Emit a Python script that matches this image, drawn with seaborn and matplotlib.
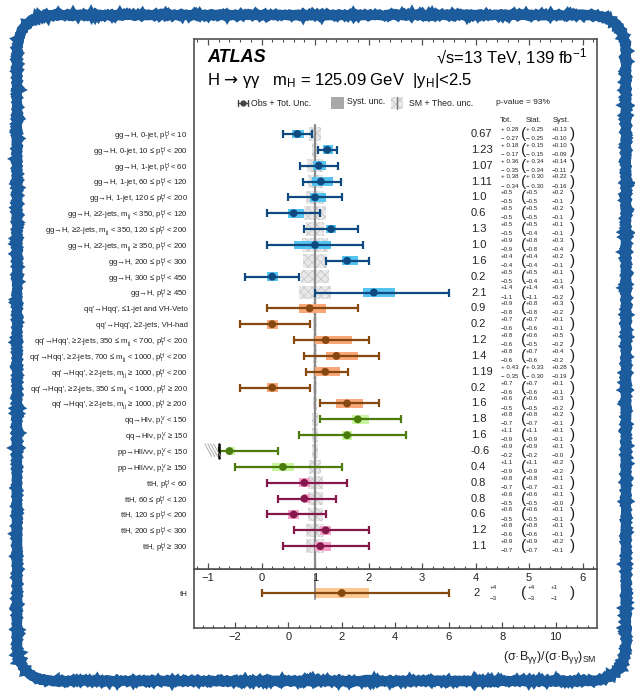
import numpy as np
import pandas as pd
import seaborn as sns
import matplotlib.pyplot as plt
import matplotlib.transforms as mtransforms
from matplotlib.patches import Rectangle, FancyBboxPatch
from matplotlib.lines import Line2D
from matplotlib.ticker import MultipleLocator

sns.set_theme(style="ticks")
plt.rcParams['font.family'] = ['Liberation Sans', 'DejaVu Sans']
plt.rcParams['mathtext.fontset'] = 'custom'
plt.rcParams['mathtext.rm'] = 'Liberation Sans'
plt.rcParams['mathtext.it'] = 'Liberation Sans:italic'
plt.rcParams['mathtext.bf'] = 'Liberation Sans:bold'
plt.rcParams['mathtext.sf'] = 'DejaVu Sans'
plt.rcParams['hatch.linewidth'] = 0.6

PT = r"$\mathregular{p_T^H}$"
MJJ = r"$\mathregular{m_{jj}}$"
PV = r"$\mathregular{p_t^V}$"

labels = [
    f"gg→H, 0-jet, {PT} < 10",
    f"gg→H, 0-jet, 10 ≤ {PT} < 200",
    f"gg→H, 1-jet, {PT} < 60",
    f"gg→H, 1-jet, 60 ≤ {PT} < 120",
    f"gg→H, 1-jet, 120 ≤ {PT} < 200",
    f"gg→H, ≥2-jets, {MJJ} < 350, {PT} < 120",
    f"gg→H, ≥2-jets, {MJJ} < 350, 120 ≤ {PT} < 200",
    f"gg→H, ≥2-jets, {MJJ} ≥ 350, {PT} < 200",
    f"gg→H, 200 ≤ {PT} < 300",
    f"gg→H, 300 ≤ {PT} < 450",
    f"gg→H, {PT} ≥ 450",
    "qq'→Hqq', ≤1-jet and VH-Veto",
    "qq'→Hqq', ≥2-jets, VH-had",
    f"qq'→Hqq', ≥2-jets, 350 ≤ {MJJ} < 700, {PT} < 200",
    f"qq'→Hqq', ≥2-jets, 700 ≤ {MJJ} < 1000, {PT} < 200",
    f"qq'→Hqq', ≥2-jets, {MJJ} ≥ 1000, {PT} < 200",
    f"qq'→Hqq', ≥2-jets, 350 ≤ {MJJ} < 1000, {PT} ≥ 200",
    f"qq'→Hqq', ≥2-jets, {MJJ} ≥ 1000, {PT} ≥ 200",
    f"qq→Hlν, {PV} < 150",
    f"qq→Hlν, {PV} ≥ 150",
    f"pp→Hll/νν, {PV} < 150",
    f"pp→Hll/νν, {PV} ≥ 150",
    f"ttH, {PT} < 60",
    f"ttH, 60 ≤ {PT} < 120",
    f"ttH, 120 ≤ {PT} < 200",
    f"ttH, 200 ≤ {PT} < 300",
    f"ttH, {PT} ≥ 300",
]
groups = ['gg'] * 11 + ['qq'] * 7 + ['vh'] * 4 + ['tth'] * 5
mu = [0.67, 1.23, 1.07, 1.11, 1.0, 0.6, 1.3, 1.0, 1.6, 0.2, 2.1,
      0.9, 0.2, 1.2, 1.4, 1.19, 0.2, 1.6,
      1.8, 1.6, -0.6, 0.4,
      0.8, 0.8, 0.6, 1.2, 1.1]
tot_up = [0.28, 0.18, 0.36, 0.38, 0.5, 0.5, 0.5, 0.9, 0.4, 0.5, 1.4,
          0.9, 0.7, 0.8, 0.8, 0.43, 0.7, 0.6,
          0.8, 1.1, 0.9, 1.1,
          0.8, 0.6, 0.6, 0.8, 0.9]
tot_dn = [0.27, 0.17, 0.35, 0.34, 0.5, 0.5, 0.5, 0.9, 0.4, 0.5, 1.1,
          0.8, 0.6, 0.6, 0.6, 0.35, 0.6, 0.5,
          0.7, 0.9, 0.2, 0.9,
          0.7, 0.5, 0.5, 0.6, 0.7]
stat_up = [0.25, 0.15, 0.34, 0.30, 0.5, 0.5, 0.5, 0.8, 0.4, 0.5, 1.4,
           0.8, 0.7, 0.6, 0.7, 0.33, 0.7, 0.6,
           0.8, 1.1, 0.9, 1.1,
           0.8, 0.6, 0.6, 0.8, 0.9]
stat_dn = [0.25, 0.15, 0.34, 0.30, 0.5, 0.5, 0.4, 0.8, 0.4, 0.4, 1.1,
           0.8, 0.6, 0.5, 0.6, 0.30, 0.6, 0.5,
           0.7, 0.9, 0.2, 0.9,
           0.7, 0.5, 0.5, 0.6, 0.7]
syst_up = [0.13, 0.10, 0.14, 0.22, 0.2, 0.2, 0.1, 0.3, 0.2, 0.1, 0.4,
           0.3, 0.1, 0.5, 0.4, 0.28, 0.1, 0.3,
           0.2, 0.1, 0.1, 0.2,
           0.1, 0.1, 0.1, 0.1, 0.2]
syst_dn = [0.10, 0.09, 0.11, 0.16, 0.1, 0.1, 0.1, 0.4, 0.1, 0.1, 0.2,
           0.2, 0.1, 0.2, 0.2, 0.19, 0.1, 0.2,
           0.1, 0.1, 0.0, 0.2,
           0.1, 0.0, 0.1, 0.1, 0.1]
decimals = [2, 2, 2, 2, 1, 1, 1, 1, 1, 1, 1,
            1, 1, 1, 1, 2, 1, 1,
            1, 1, 1, 1,
            1, 1, 1, 1, 1]
sm_unc = [0.12, 0.065, 0.15, 0.14, 0.17, 0.21, 0.17, 0.24, 0.22, 0.26, 0.29,
          0.04, 0.03, 0.04, 0.04, 0.04, 0.04, 0.04,
          0.05, 0.05, 0.05, 0.12,
          0.14, 0.14, 0.14, 0.16, 0.17]

# tH row (lower panel)
th_mu, th_up, th_dn = 2, 4, 3
th_stat_up, th_stat_dn = 4, 3
th_syst_up, th_syst_dn = 1, 1

line_col = {'gg': '#0e4a80', 'qq': '#87480e', 'vh': '#4a7b0c', 'tth': '#85174b'}
syst_col = {'gg': '#55c3f0', 'qq': '#f9a778', 'vh': '#c8f5a0', 'tth': '#f5a3cc'}
th_line, th_syst = '#87480e', '#fbc892'

df = pd.DataFrame({'label': labels, 'group': groups, 'mu': mu,
                   'tot_up': tot_up, 'tot_dn': tot_dn,
                   'syst_up': syst_up, 'syst_dn': syst_dn, 'sm': sm_unc})
df['row'] = np.arange(len(df))

W, H = 635, 695
fig = plt.figure(figsize=(W / 100, H / 100), dpi=100)
fig.patch.set_facecolor('white')


def fx(x):
    return x / W


def fy(y):
    return 1 - y / H


top_px, mid_px, bot_px = 39, 569, 628
left_px, right_px = 194, 597
ax = fig.add_axes([fx(left_px), fy(mid_px), fx(right_px - left_px), (mid_px - top_px) / H])
ax2 = fig.add_axes([fx(left_px), fy(bot_px), fx(right_px - left_px), (bot_px - mid_px) / H])
ax2.set_facecolor('none')
ax.set_zorder(3)
ax2.set_zorder(2)

xmin, xmax = -1.262, 6.271
ax.set_xlim(xmin, xmax)
ax.set_ylim(27.44, -5.99)
ax2.set_xlim(2 * xmin - 1, 2 * xmax - 1)
ax2.set_ylim(0, 1)
th_y = (bot_px - 593) / (bot_px - mid_px)

# SM boxes
ax.barh(df['row'], 2 * df['sm'], left=1 - df['sm'], height=0.85,
        color='#e9e9e9', edgecolor='#c9c9c9', hatch='xxxx', linewidth=0, zorder=1)
ax.plot([1, 1], [-0.55, 27.44], color='#8a8a8a', lw=1.6, zorder=2)

# systematic boxes
ax.barh(df['row'], df['syst_up'] + df['syst_dn'], left=df['mu'] - df['syst_dn'], height=0.55,
        color=[syst_col[g] for g in df['group']], linewidth=0, zorder=3)

# total uncertainty bars
for g, sub in df.groupby('group'):
    ax.errorbar(sub['mu'], sub['row'], xerr=[sub['tot_dn'], sub['tot_up']], fmt='none',
                ecolor=line_col[g], elinewidth=1.6, capsize=2.6, capthick=1.6, zorder=4)
sns.scatterplot(data=df, x='mu', y='row', hue='group', palette=line_col, s=32,
                edgecolor='none', legend=False, zorder=5, ax=ax)

# physical boundary for pp->Hll/vv, pT^V < 150
r = 20
lb = mu[r] - tot_dn[r]
ax.plot([lb, lb], [r - 0.42, r + 0.42], color='black', lw=1.8, zorder=6)
for k in range(4):
    x0 = lb - 0.26 + k * 0.055
    ax.plot([x0, x0 + 0.13], [r - 0.45, r + 0.35], color='#a0a0a0', lw=0.6, zorder=6)

# axes styling
for a in (ax, ax2):
    for s in a.spines.values():
        s.set_color('#505050')
        s.set_linewidth(1.2)
    a.set_xlabel('')
    a.set_ylabel('')
ax.xaxis.set_major_locator(MultipleLocator(1))
ax.xaxis.set_minor_locator(MultipleLocator(0.2))
ax.tick_params(axis='x', which='both', direction='in', top=True, bottom=True,
               colors='#505050', labelcolor='#222222', labelsize=8, pad=3)
ax.tick_params(axis='x', which='major', length=4.5, width=0.9)
ax.tick_params(axis='x', which='minor', length=2.3, width=0.8)
ax.set_xticks(range(-1, 7))
ax.set_xticklabels(['−1', '0', '1', '2', '3', '4', '5', '6'])
ax.set_yticks(df['row'])
ax.set_yticklabels(df['label'])
ax.tick_params(axis='y', length=0, labelsize=5.6, pad=4.5, labelcolor='#222222')

ax2.xaxis.set_major_locator(MultipleLocator(2))
ax2.xaxis.set_minor_locator(MultipleLocator(0.4))
ax2.tick_params(axis='x', which='both', direction='in', top=False, bottom=True,
                colors='#505050', labelcolor='#222222', labelsize=8, pad=3)
ax2.tick_params(axis='x', which='major', length=4.5, width=0.9)
ax2.tick_params(axis='x', which='minor', length=2.3, width=0.8)
ax2.set_xticks(range(-2, 11, 2))
ax2.set_xticklabels(['−2', '0', '2', '4', '6', '8', '10'])
ax2.set_yticks([th_y])
ax2.set_yticklabels(['tH'])
ax2.tick_params(axis='y', length=0, labelsize=5.6, pad=4.5, labelcolor='#222222')

# tH row
ax2.barh([th_y], [th_syst_up + th_syst_dn], left=th_mu - th_syst_dn, height=0.18,
         color=th_syst, linewidth=0, zorder=2)
ax2.plot([1, 1], [th_y - 0.1, th_y + 0.3], color='#8a8a8a', lw=1.4, zorder=3)
ax2.errorbar([th_mu], [th_y], xerr=[[th_dn], [th_up]], fmt='none', ecolor=th_line,
             elinewidth=1.6, capsize=2.6, capthick=1.6, zorder=4)
sns.scatterplot(x=[th_mu], y=[th_y], color=th_line, s=32, edgecolor='none', zorder=5, ax=ax2)

# numbers column
tr = mtransforms.blended_transform_factory(fig.transFigure, ax.transData)
tcol = '#222222'
small = 4.4
for i in range(len(df)):
    d = decimals[i]
    sp = ' ' if d == 2 else ''
    ax.text(fx(471), i, f"{mu[i]:.{d}f}", transform=tr, fontsize=8, ha='left', va='center', color=tcol)
    ax.text(fx(501), i - 0.29, f"+{sp}{tot_up[i]:.{d}f}", transform=tr, fontsize=small, ha='left', va='center', color=tcol)
    ax.text(fx(501), i + 0.29, f"−{sp}{tot_dn[i]:.{d}f}", transform=tr, fontsize=small, ha='left', va='center', color=tcol)
    ax.text(fx(524), i, "(", transform=tr, fontsize=11, ha='center', va='center', color=tcol)
    ax.text(fx(526), i - 0.29, f"+{sp}{stat_up[i]:.{d}f}", transform=tr, fontsize=small, ha='left', va='center', color=tcol)
    ax.text(fx(526), i + 0.29, f"−{sp}{stat_dn[i]:.{d}f}", transform=tr, fontsize=small, ha='left', va='center', color=tcol)
    ax.text(fx(552), i - 0.29, f"+{syst_up[i]:.{d}f}", transform=tr, fontsize=small, ha='left', va='center', color=tcol)
    ax.text(fx(552), i + 0.29, f"−{syst_dn[i]:.{d}f}", transform=tr, fontsize=small, ha='left', va='center', color=tcol)
    ax.text(fx(573), i, ")", transform=tr, fontsize=11, ha='center', va='center', color=tcol)

tr2 = mtransforms.blended_transform_factory(fig.transFigure, ax2.transData)
dy = 0.1
ax2.text(fx(473), th_y, f"{th_mu}", transform=tr2, fontsize=8, ha='left', va='center', color=tcol)
ax2.text(fx(490), th_y + dy, f"+{th_up}", transform=tr2, fontsize=small, ha='left', va='center', color=tcol)
ax2.text(fx(490), th_y - dy, f"−{th_dn}", transform=tr2, fontsize=small, ha='left', va='center', color=tcol)
ax2.text(fx(524), th_y, "(", transform=tr2, fontsize=11, ha='center', va='center', color=tcol)
ax2.text(fx(528), th_y + dy, f"+{th_stat_up}", transform=tr2, fontsize=small, ha='left', va='center', color=tcol)
ax2.text(fx(528), th_y - dy, f"−{th_stat_dn}", transform=tr2, fontsize=small, ha='left', va='center', color=tcol)
ax2.text(fx(551), th_y + dy, f"+{th_syst_up}", transform=tr2, fontsize=small, ha='left', va='center', color=tcol)
ax2.text(fx(551), th_y - dy, f"−{th_syst_dn}", transform=tr2, fontsize=small, ha='left', va='center', color=tcol)
ax2.text(fx(572), th_y, ")", transform=tr2, fontsize=11, ha='center', va='center', color=tcol)

# column headers
for xp, t in [(500, 'Tot.'), (526, 'Stat.'), (553, 'Syst.')]:
    fig.text(fx(xp), fy(120), t, fontsize=5.5, ha='left', va='center', color=tcol, zorder=10)

# header texts
fig.text(fx(207), fy(57), 'ATLAS', fontsize=13, fontweight='bold', fontstyle='italic',
         ha='left', va='center', color='black', zorder=10)
fig.text(fx(587), fy(57), r'√s=13 TeV, 139 fb$^{\mathregular{-1}}$', fontsize=12,
         ha='right', va='center', color='black', zorder=10)
fig.text(fx(207), fy(80), r'H $\mathsf{→}$ γγ   m$_{\mathregular{H}}$ = 125.09 GeV  |y$_{\mathregular{H}}$|<2.5',
         fontsize=12, ha='left', va='center', color='black', zorder=10)

# legend row
yl = 103
lk = dict(zorder=10)
fig.add_artist(Line2D([fx(238), fx(248)], [fy(yl), fy(yl)], color='#444444', lw=1.0, **lk))
for xc in (238, 248):
    fig.add_artist(Line2D([fx(xc), fx(xc)], [fy(yl - 3), fy(yl + 3)], color='#444444', lw=1.0, **lk))
fig.add_artist(Line2D([fx(243)], [fy(yl)], marker='o', markersize=3.5, color='#444444', lw=0, **lk))
fig.text(fx(251), fy(yl), 'Obs + Tot. Unc.', fontsize=6.3, ha='left', va='center', color=tcol, **lk)
fig.add_artist(Rectangle((fx(331), fy(yl + 6)), fx(13), 12 / H, transform=fig.transFigure,
                         color='#a8a8a8', lw=0, **lk))
fig.text(fx(347), fy(yl - 1.5), 'Syst. unc.', fontsize=6.3, ha='left', va='center', color=tcol, **lk)
fig.add_artist(Rectangle((fx(391), fy(yl + 6)), fx(12), 12 / H, transform=fig.transFigure,
                         facecolor='#e9e9e9', edgecolor='#c9c9c9', hatch='xxxx', lw=0, **lk))
fig.add_artist(Line2D([fx(397), fx(397)], [fy(yl - 6), fy(yl + 6)], color='#777777', lw=1.0, **lk))
fig.text(fx(409), fy(yl), 'SM + Theo. unc.', fontsize=6.3, ha='left', va='center', color=tcol, **lk)
fig.text(fx(496), fy(yl - 0.5), 'p-value = 93%', fontsize=6, ha='left', va='center', color=tcol, **lk)

# x label
fig.text(fx(597), fy(657), r'(σ·B$_{\mathregular{γγ}}$)/(σ·B$_{\mathregular{γγ}}$)$_{\mathregular{SM}}$',
         fontsize=9, ha='right', va='center', color=tcol, zorder=10)

# decorative frame
frame = FancyBboxPatch((0.17, 0.14), 6.09, 6.66, boxstyle="round,pad=0,rounding_size=0.38",
                       transform=fig.dpi_scale_trans, fill=False, ec='#1d5c9c', lw=6.5, zorder=10)
frame.set_sketch_params(1.0, 4, 2)
fig.add_artist(frame)

fig.savefig('out.png', dpi=100, facecolor='white')
